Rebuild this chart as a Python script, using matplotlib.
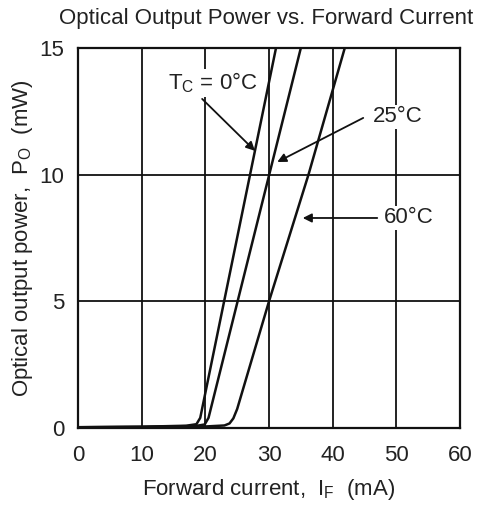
import matplotlib
matplotlib.use("Agg")
from matplotlib import pyplot as plt

plt.rcParams['font.family'] = ['Liberation Sans', 'DejaVu Sans']
plt.rcParams['mathtext.fontset'] = 'custom'
plt.rcParams['mathtext.rm'] = 'Liberation Sans'
plt.rcParams['mathtext.it'] = 'Liberation Sans'

# ===================== data =====================
# forward current (mA) -> optical output power (mW)
i_0c = [0, 10, 17, 18.6, 19.2, 31.1]
p_0c = [0.03, 0.05, 0.09, 0.15, 0.4, 15.0]

i_25c = [0, 10, 18.5, 19.9, 20.5, 35.0]
p_25c = [0.03, 0.04, 0.08, 0.14, 0.4, 15.0]

i_60c = [0, 10, 20, 23.0, 23.8, 24.4, 25.0, 30.0, 36.2, 41.9]
p_60c = [0.03, 0.04, 0.06, 0.1, 0.18, 0.38, 0.75, 5.0, 10.0, 15.0]

x_ticks = [0, 10, 20, 30, 40, 50, 60]
y_ticks = [0, 5, 10, 15]

# ===================== figure =====================
fig = plt.figure(figsize=(4.81, 5.09), dpi=100)
ax = fig.add_axes([78 / 481, 81 / 509, 382 / 481, 380 / 509])

for xs, ys in [(i_0c, p_0c), (i_25c, p_25c), (i_60c, p_60c)]:
    ax.plot(xs, ys, color='#111111', lw=1.8, zorder=3)

ax.set_xlim(0, 60)
ax.set_ylim(0, 15)
ax.set_xticks(x_ticks)
ax.set_yticks(y_ticks)
ax.grid(True, color='#111111', lw=1.3)
ax.tick_params(length=0, labelsize=16, colors='#222222')
ax.tick_params(axis='x', pad=12)
ax.tick_params(axis='y', pad=10)
for s in ax.spines.values():
    s.set_linewidth(1.6)
    s.set_color('#111111')

ax.set_title("Optical Output Power vs. Forward Current", fontsize=16, pad=17, x=0.492, color='#222222')
ax.set_xlabel(r"Forward current,  I$_\mathrm{F}$  (mA)", fontsize=16, labelpad=8, color='#222222')
ax.set_ylabel(r"Optical output power,  P$_\mathrm{O}$  (mW)", fontsize=16, labelpad=3, color='#222222')

# ===================== labels + arrows =====================
box = dict(facecolor='white', edgecolor='none', pad=1)
arw = dict(arrowstyle='-|>', color='#111111', lw=1.3, mutation_scale=13, shrinkA=0, shrinkB=0)

ax.text(21.2, 13.62, r"T$_\mathrm{C}$ = 0°C", fontsize=16, ha='center', va='center', bbox=box, zorder=4, color='#222222')
ax.annotate("", xy=(27.8, 10.94), xytext=(19.5, 12.99), arrowprops=arw, zorder=4)

ax.text(46.3, 12.28, "25°C", fontsize=16, ha='left', va='center', bbox=box, zorder=4, color='#222222')
ax.annotate("", xy=(31.3, 10.5), xytext=(44.8, 12.24), arrowprops=arw, zorder=4)

ax.text(48.1, 8.29, "60°C", fontsize=16, ha='left', va='center', bbox=box, zorder=4, color='#222222')
ax.annotate("", xy=(35.3, 8.29), xytext=(47.0, 8.29), arrowprops=arw, zorder=4)

fig.savefig("out.png", dpi=100)
